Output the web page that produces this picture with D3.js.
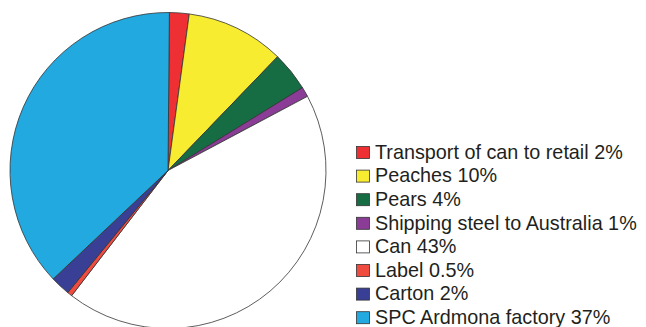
<!DOCTYPE html>
<html><head><meta charset="utf-8">
<script src="https://cdn.jsdelivr.net/npm/d3@7"></script>
<style>html,body{margin:0;padding:0;background:#fff;}svg{display:block;}</style>
</head><body>
<svg id="chart" width="646" height="327"></svg>
<script>
const categories = ["Transport of can to retail", "Peaches", "Pears", "Shipping steel to Australia", "Can", "Label", "Carton", "SPC Ardmona factory"];
const values = [2, 10, 4, 1, 43, 0.5, 2, 37];
const labels = ["Transport of can to retail 2%", "Peaches 10%", "Pears 4%", "Shipping steel to Australia 1%", "Can 43%", "Label 0.5%", "Carton 2%", "SPC Ardmona factory 37%"];
const colors = ["#ee3035", "#f8ec31", "#176d43", "#8a3c97", "#ffffff", "#ef4b3f", "#383f94", "#22a9e0"];

const svg = d3.select("#chart");
const cx = 168, cy = 170.5, r = 158;
const start = 0.5 * Math.PI / 180;
const data = categories.map((c, i) => ({c, v: values[i], col: colors[i], label: labels[i]}));
const pie = d3.pie().value(d => d.v).sort(null).startAngle(start).endAngle(start + 2 * Math.PI);
const arc = d3.arc().innerRadius(0).outerRadius(r);
const g = svg.append("g").attr("transform", `translate(${cx},${cy})`);
g.selectAll("path").data(pie(data)).join("path")
  .attr("d", arc)
  .attr("fill", d => d.data.col)
  .attr("stroke", "#333")
  .attr("stroke-width", 0.8)
  .attr("stroke-linejoin", "round");

const y = d3.scaleBand().domain(categories).range([141.5, 141.5 + 23.6 * categories.length]);
const lg = svg.append("g");
const rows = lg.selectAll("g").data(data).join("g")
  .attr("transform", d => `translate(356,${y(d.c)})`);
rows.append("rect").attr("x", 0.5).attr("y", 5).attr("width", 13).attr("height", 12)
  .attr("fill", d => d.col).attr("stroke", "#333").attr("stroke-width", 0.8);
rows.append("text").attr("x", 19).attr("y", 17.2)
  .attr("font-family", "Liberation Sans, Arial, sans-serif")
  .attr("font-size", 19.8)
  .attr("fill", "#231f20")
  .text(d => d.label);
</script>
</body></html>
